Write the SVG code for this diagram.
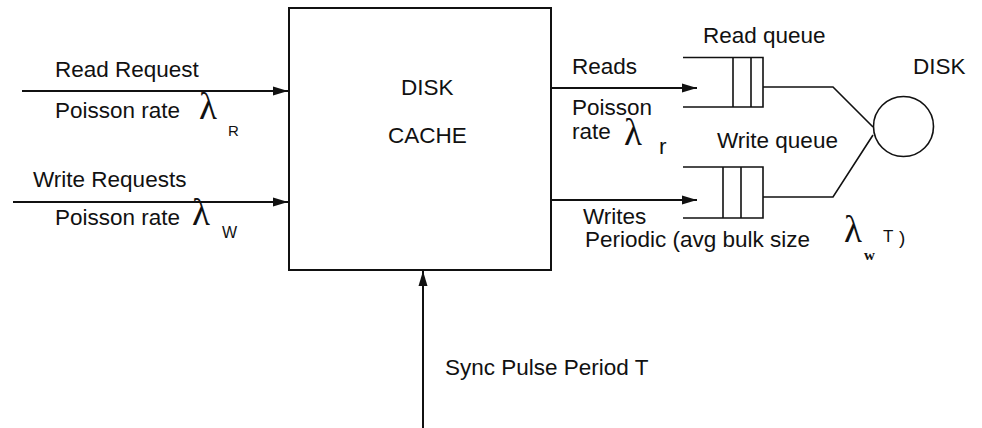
<svg xmlns="http://www.w3.org/2000/svg" width="982" height="428" viewBox="0 0 982 428">
<defs>
<style>
text{font-family:"Liberation Sans",Arial,sans-serif;font-size:22.5px;fill:#111}
.lam{font-family:"Liberation Serif","Times New Roman",serif;font-size:37px}
.sub{font-size:15px}
.ln{stroke:#111;stroke-width:2;fill:none}
.q{stroke:#111;stroke-width:1.6;fill:none}
</style>
<marker id="ah" markerUnits="userSpaceOnUse" markerWidth="16" markerHeight="10" viewBox="0 0 16 10" refX="15" refY="5" orient="auto">
<path d="M0,0.5 L15,5 L0,9.5 Z" fill="#111"/>
</marker>
</defs>
<rect width="982" height="428" fill="#fff"/>

<g id="connectors">
<line class="ln" x1="22" y1="91" x2="288" y2="91" marker-end="url(#ah)"/>
<line class="ln" x1="13" y1="202" x2="288" y2="202" marker-end="url(#ah)"/>
<line class="ln" x1="551" y1="88" x2="697" y2="88" marker-end="url(#ah)"/>
<line class="ln" x1="551" y1="200" x2="697" y2="200" marker-end="url(#ah)"/>
<line class="ln" x1="423" y1="428" x2="423" y2="271" marker-end="url(#ah)"/>
<polyline class="q" points="763,87 833,87 873,127"/>
<polyline class="q" points="763,197 833,197 873,135"/>
</g>

<g id="disk-cache">
<rect x="289" y="8" width="262" height="262" class="ln"/>
<text x="401" y="95">DISK</text>
<text x="388" y="143">CACHE</text>
</g>

<g id="read-queue">
<path class="q" d="M683,57.5 H763 V107 H683 M733,57.5 V107 M751,57.5 V107"/>
<text x="703" y="43">Read queue</text>
</g>

<g id="write-queue">
<path class="q" d="M683,167 H763 V218 H683 M723,167 V218 M741,167 V218"/>
<text x="717" y="148">Write queue</text>
</g>

<g id="disk">
<circle cx="903.5" cy="126.5" r="30" class="q"/>
<text x="913" y="74">DISK</text>
</g>

<g id="labels">
<text x="55" y="77">Read Request</text>
<text x="55" y="118">Poisson rate</text>
<text class="lam" x="199" y="119">λ</text>
<text class="sub" x="228" y="136">R</text>

<text x="33" y="187">Write Requests</text>
<text x="55" y="225">Poisson rate</text>
<text class="lam" x="192" y="225">λ</text>
<text style="font-size:16px" x="222" y="238">W</text>

<text x="572" y="74">Reads</text>
<text x="572" y="115">Poisson</text>
<text x="572" y="139">rate</text>
<text class="lam" x="624" y="145">λ</text>
<text x="659" y="154">r</text>

<text x="583" y="224">Writes</text>
<text x="585" y="247">Periodic (avg bulk size</text>
<text class="lam" x="844" y="242">λ</text>
<text style="font-family:'Liberation Serif',serif;font-size:15px;font-weight:bold" x="864" y="260">w</text>
<text style="font-size:17px" x="883" y="242">T</text>
<text style="font-size:19px" x="899" y="244">)</text>

<text x="445" y="375">Sync Pulse Period T</text>
</g>
</svg>
